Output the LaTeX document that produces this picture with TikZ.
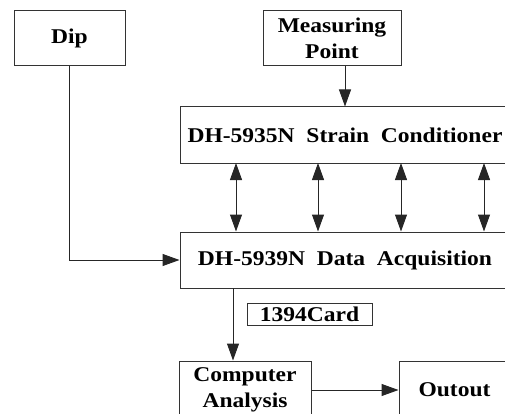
\documentclass[tikz,border=0pt]{standalone}
\usepackage{fontspec}
\setmainfont{Liberation Serif}[FakeStretch=1.12]
\usetikzlibrary{arrows.meta}

\tikzset{
  boite/.style={draw=black!80, line width=1pt, align=center, inner sep=0pt,
    font=\fontsize{21}{26}\selectfont\bfseries},
  fleche/.style={->, >={Triangle[length=17pt,width=12pt]}, line width=1pt, draw=black!85},
}

\begin{document}
\begin{tikzpicture}[x=1pt,y=-1pt]
  \useasboundingbox (0,0) rectangle (505,414);
  \clip (0,0) rectangle (505,414);

  % Boîtes du haut
  \node[boite, minimum width=111pt, minimum height=55pt] (dip) at (69.5,38.5) {Dip};
  \node[boite, minimum width=138pt, minimum height=55pt] (mp) at (332,38.5) {Measuring\\Point};

  % Conditionneur et acquisition
  \node[boite, minimum width=330pt, minimum height=56pt] (cond) at (345,135) {DH-5935N\ \ Strain\ \ Conditioner};
  \node[boite, minimum width=330pt, minimum height=56pt] (daq) at (345,260) {DH-5939N\ \ Data\ \ Acquisition};

  % Carte, analyse et sortie
  \node[boite, minimum width=125pt, minimum height=22pt] (card) at (309.5,314) {1394Card};
  \node[boite, minimum width=132pt, minimum height=58pt] (ca) at (245,390) {Computer\\Analysis};
  \node[boite, minimum width=111pt, minimum height=58pt] (out) at (454.5,390) {Outout};

  % Liaisons
  \coordinate (mpx) at (345,66);
  \draw[fleche] (mpx) -- (mpx |- cond.north);
  \draw[fleche] (dip.south) |- (daq.west);
  \foreach \x [count=\i] in {236,318,401,484} {
    \coordinate (b\i) at (\x,163);
    \draw[fleche, <->] (b\i) -- (b\i |- daq.north);
  }
  \coordinate (carte) at (233,288);
  \draw[fleche] (carte) -- (carte |- ca.north);
  \draw[fleche] (ca.east) -- (out.west);
\end{tikzpicture}
\end{document}
